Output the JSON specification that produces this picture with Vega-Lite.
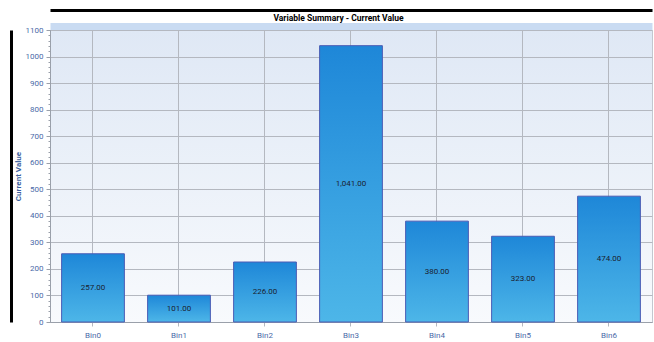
{
  "$schema": "https://vega.github.io/schema/vega-lite/v6.json",
  "autosize": "none",
  "width": 602,
  "height": 292,
  "padding": {"left": 50, "top": 30, "right": 2, "bottom": 20},
  "background": "white",
  "config": {
    "font": "Roboto",
    "view": {
      "stroke": "#c3c7cf",
      "strokeWidth": 1,
      "fill": {"gradient": "linear", "x1": 0, "y1": 0, "x2": 0, "y2": 1, "stops": [{"offset": 0, "color": "#dfe8f5"}, {"offset": 1, "color": "#f8fafd"}]}
    }
  },
  "data": {"values": [
    {"bin": "Bin0", "v": 257},
    {"bin": "Bin1", "v": 101},
    {"bin": "Bin2", "v": 226},
    {"bin": "Bin3", "v": 1041},
    {"bin": "Bin4", "v": 380},
    {"bin": "Bin5", "v": 323},
    {"bin": "Bin6", "v": 474}
  ]},
  "layer": [
    {
      "mark": {"type": "bar", "opacity": 0},
      "encoding": {
        "y": {"field": "v", "type": "quantitative", "scale": {"domain": [0, 1100], "nice": false},
          "axis": {"orient": "left", "offset": 39, "domain": true, "domainColor": "#000000", "domainWidth": 3,
            "ticks": false, "labels": false, "grid": false, "title": null}},
        "x": {"field": "bin", "type": "nominal", "sort": null,
          "scale": {"paddingInner": 0.27, "paddingOuter": 0.135},
          "axis": {"orient": "top", "offset": 20, "domain": true, "domainColor": "#000000", "domainWidth": 3,
            "ticks": false, "labels": false, "grid": false,
            "title": "Variable Summary - Current Value", "titleFont": "Roboto", "titleFontSize": 8.5,
            "titleFontWeight": "bold", "titleColor": "#000000", "titleX": 288, "titleY": 10,
            "titleAlign": "center", "titleBaseline": "alphabetic", "titleAnchor": null}}
      }
    },
    {
      "mark": {"type": "bar", "opacity": 0},
      "encoding": {
        "x": {"field": "bin", "type": "nominal", "sort": null,
          "axis": {"orient": "top", "offset": 4, "domain": true, "domainColor": "#c9dbf2", "domainWidth": 7,
            "ticks": false, "labels": false, "grid": false, "title": null}},
        "y": {"field": "v", "type": "quantitative", "scale": {"domain": [0, 1100], "nice": false},
          "axis": {"orient": "left", "values": [0,20,40,60,80,100,120,140,160,180,200,220,240,260,280,300,320,340,360,380,400,420,440,460,480,500,520,540,560,580,600,620,640,660,680,700,720,740,760,780,800,820,840,860,880,900,920,940,960,980,1000,1020,1040,1060,1080,1100],
            "ticks": true, "tickSize": 2, "tickColor": "#9aa0aa", "labels": false, "grid": false, "domain": false, "title": null}}
      }
    },
    {
      "mark": {"type": "bar", "stroke": "#4a5cb4", "strokeWidth": 1,
        "color": {"gradient": "linear", "x1": 0, "y1": 0, "x2": 0, "y2": 1, "stops": [{"offset": 0, "color": "#1e87d8"}, {"offset": 1, "color": "#4db6e8"}]}},
      "encoding": {
        "y": {"field": "v", "type": "quantitative", "scale": {"domain": [0, 1100], "nice": false},
          "axis": {"orient": "left", "values": [0,100,200,300,400,500,600,700,800,900,1000,1100], "format": "d",
            "grid": true, "gridColor": "#b4b8c0", "gridWidth": 1,
            "domain": true, "domainColor": "#9aa0aa", "ticks": true, "tickSize": 4, "tickColor": "#9aa0aa",
            "labelFontSize": 8, "labelColor": "#4a6aa8", "labelPadding": 3,
            "title": "Current Value", "titleFontSize": 8, "titleFontWeight": "bold", "titleColor": "#3a5f9e",
            "titleX": -32, "titleY": 146, "titleAngle": -90, "titleAlign": "center", "titleBaseline": "middle"}},
        "x": {"field": "bin", "type": "nominal", "sort": null,
          "axis": {"orient": "bottom", "labelAngle": 0, "title": null, "grid": true, "gridColor": "#b4b8c0", "bandPosition": 0.5,
            "domain": true, "domainColor": "#9aa0aa", "ticks": true, "tickSize": 4, "tickColor": "#b4b8c0",
            "labelFontSize": 8, "labelColor": "#4a6aa8", "labelPadding": 5}}
      }
    },
    {
      "mark": {"type": "text", "fontSize": 8, "color": "#1a2230", "baseline": "middle"},
      "encoding": {
        "x": {"field": "bin", "type": "nominal", "sort": null, "axis": null},
        "y": {"field": "v", "type": "quantitative", "scale": {"domain": [0, 2200], "nice": false}, "axis": null},
        "text": {"field": "v", "type": "quantitative", "format": ",.2f"}
      }
    }
  ],
  "resolve": {"scale": {"y": "independent"}, "axis": {"x": "independent", "y": "independent"}}
}
